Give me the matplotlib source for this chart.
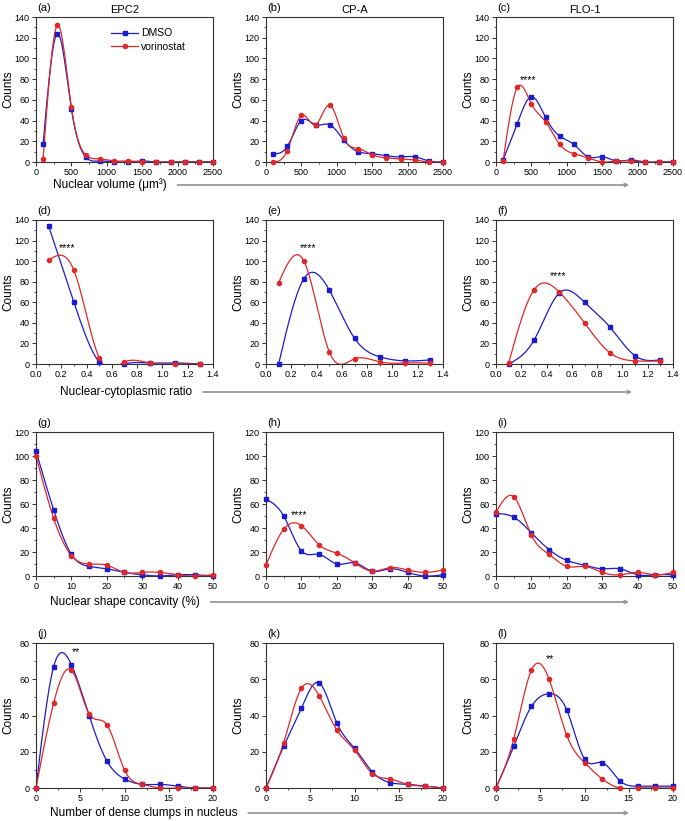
import numpy as np
import matplotlib
matplotlib.use("Agg")
import matplotlib.pyplot as plt
from matplotlib.lines import Line2D
from matplotlib.patches import FancyArrowPatch
from matplotlib.ticker import MultipleLocator

plt.rcParams['font.family'] = ['Liberation Sans', 'DejaVu Sans']

# ---------------- data ----------------
vol_x = [100, 300, 500, 700, 900, 1100, 1300, 1500, 1700, 1900, 2100, 2300, 2500]
a_dmso = [17, 124, 51, 5, 1, 0, 0, 1, 0, 0, 0, 0, 0]
a_vor = [3, 132, 53, 7, 3, 1, 1, 0, 0, 0, 0, 0, 0]
b_dmso = [8, 15, 40, 36, 36, 21, 10, 8, 6, 5, 5, 1, 0]
b_vor = [0, 11, 45, 36, 55, 23, 13, 7, 4, 3, 2, 0, 0]
c_dmso = [2, 37, 63, 43, 25, 17, 5, 5, 1, 2, 0, 0, 0]
c_vor = [1, 72, 56, 39, 17, 8, 4, 0, 1, 1, 0, 0, 0]

ratio_x = [0.1, 0.3, 0.5, 0.7, 0.9, 1.1, 1.3]
d_dmso = [134, 60, 2, 0, 1, 1, 0]
d_vor = [101, 91, 6, 2, 1, 0, 0]
e_dmso = [0, 83, 72, 25, 7, 3, 4]
e_vor = [79, 100, 12, 5, 2, 1, 1]
f_dmso = [0, 23, 69, 60, 36, 8, 4]
f_vor = [1, 72, 70, 40, 11, 3, 3]

conc_x = [0, 5, 10, 15, 20, 25, 30, 35, 40, 45, 50]
g_dmso = [104, 55, 18, 8, 6, 3, 1, 0, 1, 1, 0]
g_vor = [100, 48, 17, 10, 9, 3, 3, 3, 1, 0, 1]
h_dmso = [64, 50, 21, 18, 10, 11, 4, 6, 3, 0, 1]
h_vor = [9, 39, 42, 26, 19, 11, 4, 7, 5, 3, 5]
i_dmso = [52, 49, 36, 22, 13, 9, 6, 6, 1, 1, 1]
i_vor = [53, 66, 34, 18, 8, 8, 3, 1, 3, 1, 3]

clump_x = [0, 2, 4, 6, 8, 10, 12, 14, 16, 18, 20]
j_dmso = [0, 67, 68, 40, 15, 5, 2, 2, 1, 0, 0]
j_vor = [0, 47, 65, 41, 35, 10, 2, 0, 0, 0, 0]
k_dmso = [0, 23, 44, 58, 36, 22, 9, 3, 2, 1, 0]
k_vor = [0, 25, 55, 51, 32, 21, 8, 5, 2, 1, 0]
l_dmso = [0, 23, 45, 52, 43, 16, 14, 4, 1, 1, 1]
l_vor = [0, 27, 65, 60, 29, 14, 5, 0, 0, 0, 0]

titles = ['EPC2', 'CP-A', 'FLO-1']
panel_letters = ['(a)', '(b)', '(c)', '(d)', '(e)', '(f)', '(g)', '(h)', '(i)', '(j)', '(k)', '(l)']
row_xlabels = ['Nuclear volume (μm³)', 'Nuclear-cytoplasmic ratio',
               'Nuclear shape concavity (%)', 'Number of dense clumps in nucleus']
series_names = ['DMSO', 'vorinostat']
# significance marks: panel index -> (text, x, y)
sig_marks = {2: ('****', 450, 79), 3: ('****', 0.245, 113), 4: ('****', 0.33, 113),
             5: ('****', 0.49, 85), 7: ('****', 9.3, 51), 9: ('**', 4.5, 75),
             11: ('**', 6.1, 71)}

rows = [
    (vol_x, [(a_dmso, a_vor), (b_dmso, b_vor), (c_dmso, c_vor)]),
    (ratio_x, [(d_dmso, d_vor), (e_dmso, e_vor), (f_dmso, f_vor)]),
    (conc_x, [(g_dmso, g_vor), (h_dmso, h_vor), (i_dmso, i_vor)]),
    (clump_x, [(j_dmso, j_vor), (k_dmso, k_vor), (l_dmso, l_vor)]),
]
row_axis = [  # xlim, xmajor, xminor, ylim, ymajor, yminor
    ((0, 2500), 500, 250, (0, 140), 20, 10),
    ((0, 1.4), 0.2, 0.1, (0, 140), 20, 10),
    ((0, 50), 10, 5, (0, 120), 20, 10),
    ((0, 20), 5, 2.5, (0, 80), 20, 10),
]


def natural_spline(x, y, n=400):
    x = np.asarray(x, float)
    y = np.asarray(y, float)
    m = len(x)
    h = np.diff(x)
    A = np.zeros((m, m))
    b = np.zeros(m)
    A[0, 0] = 1
    A[-1, -1] = 1
    for i in range(1, m - 1):
        A[i, i - 1] = h[i - 1]
        A[i, i] = 2 * (h[i - 1] + h[i])
        A[i, i + 1] = h[i]
        b[i] = 3 * ((y[i + 1] - y[i]) / h[i] - (y[i] - y[i - 1]) / h[i - 1])
    c = np.linalg.solve(A, b)
    xs = np.linspace(x[0], x[-1], n)
    idx = np.clip(np.searchsorted(x, xs, side='right') - 1, 0, m - 2)
    hi = h[idx]
    bi = (y[idx + 1] - y[idx]) / hi - hi * (2 * c[idx] + c[idx + 1]) / 3
    di = (c[idx + 1] - c[idx]) / (3 * hi)
    t = xs - x[idx]
    ys = y[idx] + bi * t + c[idx] * t ** 2 + di * t ** 3
    return xs, ys


W, H = 685, 821
fig = plt.figure(figsize=(W / 100, H / 100), dpi=100)

col_left = [36, 266, 496]
col_w = 177
row_tb = [(17, 162), (220, 364), (432, 576), (643, 788)]

blue = '#1c1ccc'
red = '#e02828'
tick_fs = 6.5
lab_fs = 8.5

axes = []
for r, (xv, pairs) in enumerate(rows):
    xlim, xmaj, xmin, ylim, ymaj, ymin = row_axis[r]
    top, bot = row_tb[r]
    for c in range(3):
        left = col_left[c]
        ax = fig.add_axes([left / W, 1 - bot / H, col_w / W, (bot - top) / H])
        axes.append(ax)
        pidx = r * 3 + c
        dm, vo = pairs[c]
        for yv, col, mk in [(dm, blue, 's'), (vo, red, 'o')]:
            xs, ys = natural_spline(xv, yv)
            ax.plot(xs, ys, color=col, lw=0.9, zorder=2)
            ax.plot(xv, yv, ls='none', marker=mk, ms=3.0, color=col,
                    mec=col, clip_on=False, zorder=3)
        ax.set_xlim(*xlim)
        ax.set_ylim(*ylim)
        ax.xaxis.set_major_locator(MultipleLocator(xmaj))
        ax.xaxis.set_minor_locator(MultipleLocator(xmin))
        ax.yaxis.set_major_locator(MultipleLocator(ymaj))
        ax.yaxis.set_minor_locator(MultipleLocator(ymin))
        if r == 1:
            ax.xaxis.set_major_formatter(matplotlib.ticker.FormatStrFormatter('%.1f'))
        ax.tick_params(which='both', direction='out', top=False, right=False,
                       labelsize=tick_fs, pad=1.5, color='#333333')
        ax.tick_params(which='major', length=3, width=0.7)
        ax.tick_params(which='minor', length=1.6, width=0.6)
        for s in ax.spines.values():
            s.set_linewidth(0.8)
            s.set_color('#333333')
        ax.set_ylabel('Counts', fontsize=lab_fs, labelpad=2)
        ax.yaxis.set_label_coords(-0.125, 0.5)
        ax.text(0.005, 1.025, panel_letters[pidx], transform=ax.transAxes,
                fontsize=8, ha='left', va='bottom')
        if r == 0:
            ax.set_title(titles[c], fontsize=8, pad=3)
        if pidx in sig_marks:
            t, sx, sy = sig_marks[pidx]
            ax.text(sx, sy, t, fontsize=7.5, ha='center', va='center')

# legend in panel (a)
handles = [Line2D([], [], color=blue, marker='s', ms=3.0, lw=0.9),
           Line2D([], [], color=red, marker='o', ms=3.0, lw=0.9)]
axes[0].legend(handles, series_names, loc='upper left', bbox_to_anchor=(0.4, 0.95),
               frameon=False, fontsize=7.5, handlelength=2.6, handletextpad=0.3,
               labelspacing=0.35, borderaxespad=0)

# row x-labels with arrows
label_pos = [(53, 185), (60, 392), (50, 602), (50, 813)]
arrow_end = [632, 635, 632, 632]
label_texts = []
for r in range(4):
    lx, ly = label_pos[r]
    t = fig.text(lx / W, 1 - ly / H, row_xlabels[r], fontsize=lab_fs,
                 ha='left', va='center')
    label_texts.append(t)

fig.canvas.draw()
renderer = fig.canvas.get_renderer()
for r, t in enumerate(label_texts):
    bb = t.get_window_extent(renderer)
    ly = label_pos[r][1]
    x0 = (bb.x1 + 8) / W
    x1 = arrow_end[r] / W
    yy = 1 - ly / H
    arr = FancyArrowPatch((x0, yy), (x1, yy), transform=fig.transFigure,
                          arrowstyle='-|>', mutation_scale=5, color='#9a9a9a',
                          lw=1.3)
    fig.add_artist(arr)

fig.savefig('out.png', dpi=100)
